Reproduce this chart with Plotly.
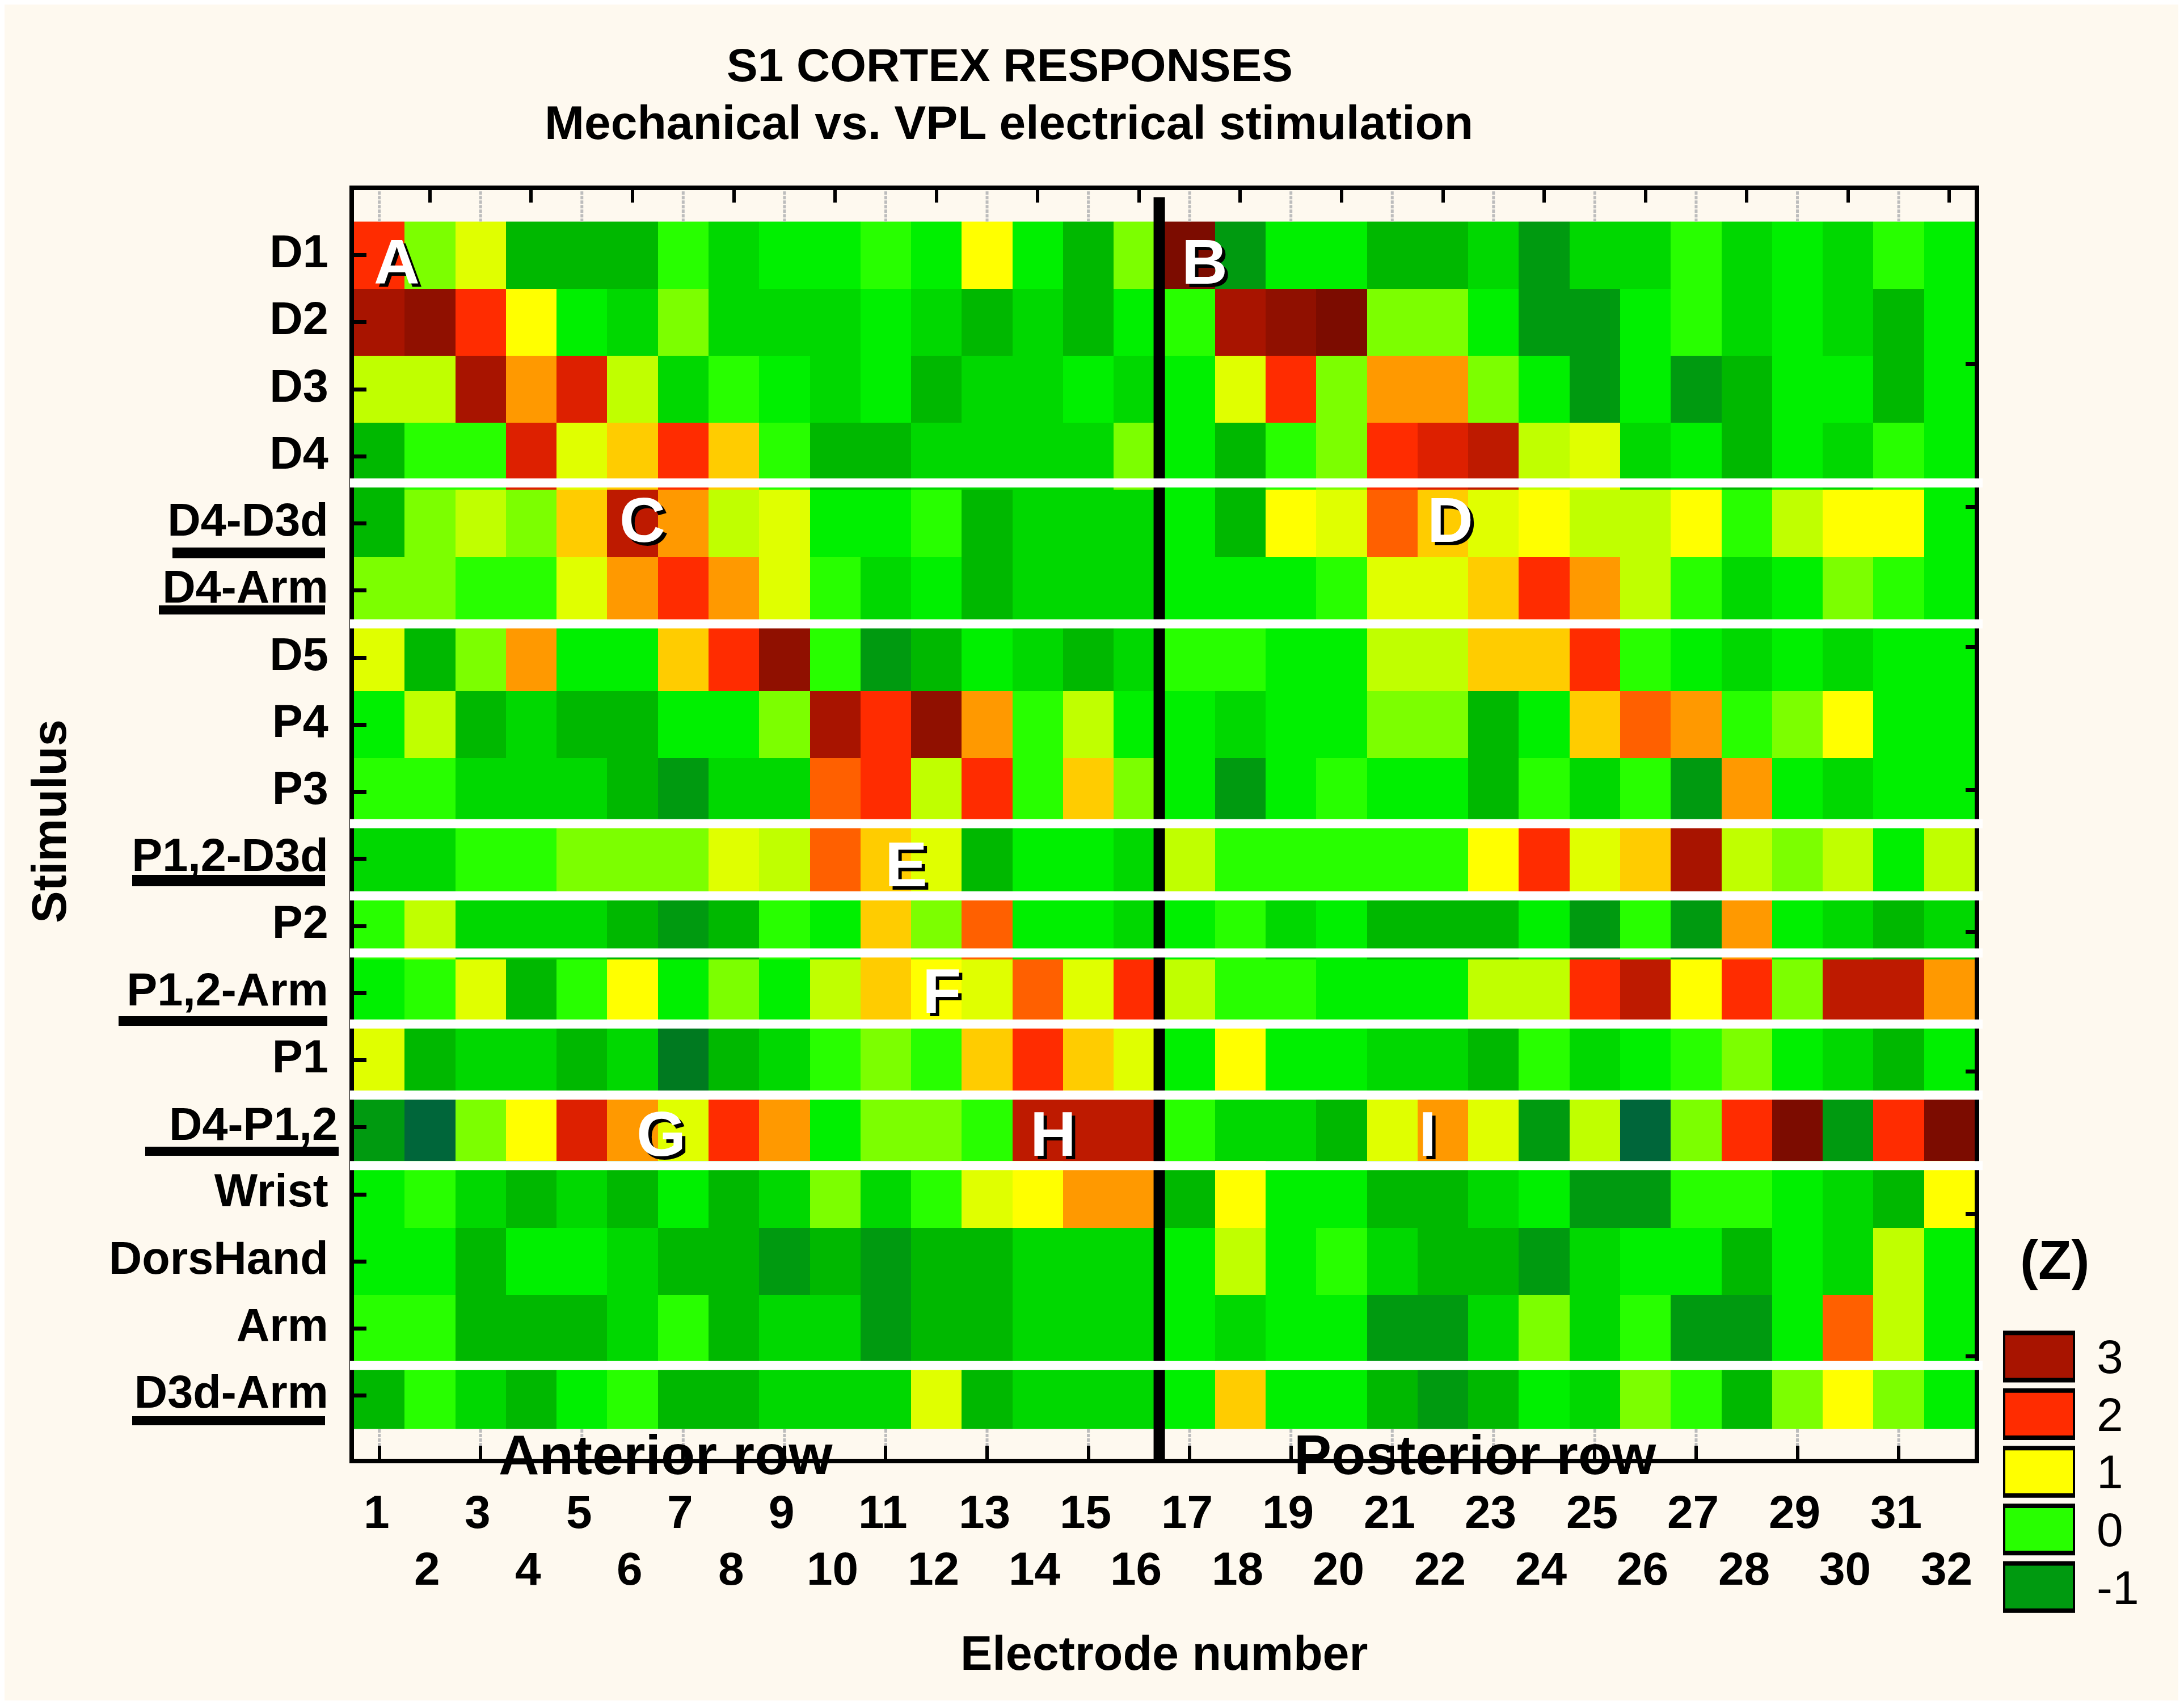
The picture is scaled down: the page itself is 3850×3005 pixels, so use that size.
import plotly.graph_objects as go

W, H = 3850, 3005
FONT = "Liberation Sans"

ELECTRODES = list(range(1, 33))
STIMULI = [
    "D1", "D2", "D3", "D4", "D4-D3d", "D4-Arm", "D5", "P4", "P3",
    "P1,2-D3d", "P2", "P1,2-Arm", "P1", "D4-P1,2", "Wrist", "DorsHand", "Arm", "D3d-Arm",
]

# z scores per stimulus, electrodes 1..32
D1 = [2, .25, .75, -.75, -.75, -.75, 0, -.5, -.25, -.25, 0, -.25, 1, -.25, -.75, .25,
      4, -1, -.25, -.25, -.75, -.75, -.5, -1, -.5, -.5, 0, -.5, -.25, -.5, 0, -.25]
D2 = [3, 3.5, 2, 1, -.25, -.5, .25, -.5, -.5, -.5, -.25, -.5, -.75, -.5, -.75, -.25,
      0, 3, 3.5, 4, .25, .25, -.25, -1, -1, -.25, 0, -.5, -.25, -.5, -.75, -.25]
D3 = [.5, .5, 3, 1.5, 2.25, .5, -.5, 0, -.25, -.5, -.25, -.75, -.5, -.5, -.25, -.5,
      -.25, .75, 2, .25, 1.5, 1.5, .25, -.25, -1, -.25, -1, -.75, -.25, -.25, -.75, -.25]
D4 = [-.75, 0, 0, 2.25, .75, 1.25, 2, 1.25, 0, -.75, -.75, -.5, -.5, -.5, -.5, .25,
      -.25, -.75, 0, .25, 2, 2.25, 2.5, .5, .75, -.5, -.25, -.75, -.25, -.5, 0, -.25]
D4_D3D = [-.75, .25, .5, .25, 1.25, 2.5, 1.5, .5, .75, -.25, -.25, 0, -.75, -.5, -.5, -.5,
          -.25, -.75, 1, .75, 1.75, 1.25, .75, 1, .5, .5, 1, 0, .5, 1, 1, -.25]
D4_ARM = [.25, .25, 0, 0, .75, 1.5, 2, 1.5, .75, 0, -.5, -.25, -.75, -.5, -.5, -.5,
          -.25, -.25, -.25, 0, .75, .75, 1.25, 2, 1.5, .5, 0, -.5, -.25, .25, 0, -.25]
D5 = [.75, -.75, .25, 1.5, -.25, -.25, 1.25, 2, 3.5, 0, -1, -.75, -.25, -.5, -.75, -.5,
      0, 0, -.25, -.25, .5, .5, 1.25, 1.25, 2, 0, -.25, -.5, -.25, -.5, -.25, -.25]
P4 = [-.25, .5, -.75, -.5, -.75, -.75, -.25, -.25, .25, 3, 2, 3.5, 1.5, 0, .5, -.25,
      -.25, -.5, -.25, -.25, .25, .25, -.75, -.25, 1.25, 1.75, 1.5, 0, .25, 1, -.25, -.25]
P3 = [0, 0, -.5, -.5, -.5, -.75, -1, -.5, -.5, 1.75, 2, .5, 2, 0, 1.25, .25,
      -.25, -1, -.25, 0, -.25, -.25, -.75, 0, -.5, 0, -1, 1.5, -.25, -.5, -.25, -.25]
P12_D3D = [-.5, -.5, 0, 0, .25, .25, .25, .75, .5, 1.75, 1.25, .75, -.75, -.25, -.25, -.5,
           .5, 0, 0, 0, 0, 0, 1, 2, .75, 1.25, 3, .5, .25, .5, -.25, .5]
P2 = [0, .5, -.5, -.5, -.5, -.75, -1, -.75, 0, -.25, 1.25, .25, 1.75, -.25, -.25, -.5,
      -.25, 0, -.5, -.25, -.75, -.75, -.75, -.25, -1, 0, -1, 1.5, -.25, -.5, -.75, -.5]
P12_ARM = [-.25, 0, .75, -.75, 0, 1, -.25, .25, -.25, .5, 1.25, 1, .75, 1.75, .75, 2,
           .5, 0, 0, -.25, -.25, -.25, .5, .5, 2, 2.5, 1, 2, .25, 2.5, 2.5, 1.5]
P1 = [.75, -.75, -.5, -.5, -.75, -.5, -1.25, -.75, -.5, 0, .25, 0, 1.25, 2, 1.25, .75,
      -.25, 1, -.25, -.25, -.5, -.5, -.75, 0, -.5, -.25, 0, .25, -.25, -.5, -.75, -.25]
D4_P12 = [-1, -1.5, .25, 1, 2.25, 1.5, .75, 2, 1.5, -.25, .25, .25, 0, 2.5, 2.5, 2.5,
          0, -.5, -.5, -.75, .75, 1.5, .75, -1, .5, -1.5, .25, 2, 4, -1, 2, 4]
WRIST = [-.25, 0, -.5, -.75, -.5, -.75, -.25, -.75, -.5, .25, -.5, 0, .75, 1, 1.5, 1.5,
         -.75, 1, -.25, -.25, -.75, -.75, -.5, -.25, -1, -1, 0, 0, -.25, -.5, -.75, 1]
DORSHAND = [-.25, -.25, -.75, -.25, -.25, -.5, -.75, -.75, -1, -.75, -1, -.75, -.75, -.5, -.5, -.5,
            -.25, .5, -.25, 0, -.5, -.75, -.75, -1, -.5, -.25, -.25, -.75, -.25, -.5, .5, -.25]
ARM = [0, 0, -.75, -.75, -.75, -.5, 0, -.75, -.5, -.5, -1, -.75, -.75, -.5, -.5, -.5,
       -.25, -.5, -.25, -.25, -1, -1, -.5, .25, -.5, 0, -1, -1, -.25, 1.75, .5, -.25]
D3D_ARM = [-.75, 0, -.5, -.75, -.25, 0, -.75, -.75, -.5, -.5, -.5, .75, -.75, -.5, -.5, -.5,
           -.25, 1.25, -.25, -.25, -.75, -1, -.75, -.25, -.5, .25, 0, -.75, .25, 1, .25, -.25]

Z_ROWS = [D1, D2, D3, D4, D4_D3D, D4_ARM, D5, P4, P3, P12_D3D, P2, P12_ARM, P1, D4_P12,
          WRIST, DORSHAND, ARM, D3D_ARM]

LEVELS = [-1.5, -1.25, -1, -.75, -.5, -.25, 0, .25, .5, .75, 1, 1.25, 1.5, 1.75, 2, 2.25, 2.5, 3, 3.5, 4]
COLORS = ["#00663A", "#007A20", "#009A10", "#00B800", "#00D800", "#00F000", "#28FF00", "#7CFF00",
          "#C0FF00", "#E0FF00", "#FFFF00", "#FFCC00", "#FF9900", "#FF6000", "#FF2C00", "#DD2000",
          "#BE1A00", "#A81400", "#901000", "#7C0C00"]

LEGEND_VALUES = [3, 2, 1, 0, -1]
LEGEND_COLORS = ["#A81400", "#FF2C00", "#FFFF00", "#28FF00", "#009A10"]

# white gaps between stimulus groups, in row units
SEPARATORS = [4.395, 6.495, 9.475, 10.55, 11.40, 12.46, 13.52, 14.57, 17.55]

LETTERS = [("A", 1.35, 1.1), ("B", 17.3, 1.1), ("C", 6.2, 4.95), ("D", 22.15, 4.95), ("E", 11.4, 10.08),
           ("F", 12.1, 11.97), ("G", 6.57, 14.1), ("H", 14.3, 14.1), ("I", 21.7, 14.1)]

# x0, x1, y0, y1 in page pixels
UNDERLINES = [(304, 573, 965, 984), (280, 573, 1067, 1083), (233, 573, 1542, 1562),
              (209, 577, 1791, 1808), (256, 597, 2021, 2037), (233, 573, 2496, 2512)]


def px(v):
    return v / W


def py(v):
    return 1 - v / H


def stepped_scale(levels, colors):
    lo, hi = levels[0], levels[-1]
    scale = []
    edges = [lo] + [(a + b) / 2 for a, b in zip(levels, levels[1:])] + [hi]
    for i, c in enumerate(colors):
        scale.append([(edges[i] - lo) / (hi - lo), c])
        scale.append([(edges[i + 1] - lo) / (hi - lo), c])
    return scale


fig = go.Figure()

fig.add_trace(go.Heatmap(
    x=ELECTRODES, y=list(range(1, 19)), z=Z_ROWS,
    zmin=LEVELS[0], zmax=LEVELS[-1], colorscale=stepped_scale(LEVELS, COLORS),
    showscale=False, hoverinfo="skip",
))

# grey stubs in the white strips at odd electrodes
stub_x, stub_y = [], []
for e in ELECTRODES[::2]:
    stub_x += [e, e, None, e, e, None]
    stub_y += [0.05, 0.5, None, 18.5, 18.78, None]
fig.add_trace(go.Scatter(x=stub_x, y=stub_y, mode="lines", line=dict(color="#BDBDBD", width=5, dash="6px,2px"),
                         showlegend=False, hoverinfo="skip"))

# divider between anterior and posterior rows
fig.add_trace(go.Scatter(x=[16.4, 16.4], y=[0.135, 19.05], mode="lines", line=dict(color="black", width=20),
                         cliponaxis=False, showlegend=False, hoverinfo="skip"))

# keeps the top and right tick axes alive
fig.add_trace(go.Scatter(x=[2], y=[1], xaxis="x2", yaxis="y2", mode="markers", marker=dict(opacity=0),
                         showlegend=False, hoverinfo="skip"))

fig.add_trace(go.Bar(
    x=[1] * 5, y=LEGEND_VALUES, orientation="h", width=0.82, base=0,
    marker=dict(color=LEGEND_COLORS, line=dict(color="black", width=8)),
    xaxis="x3", yaxis="y3", cliponaxis=False, showlegend=False, hoverinfo="skip",
))

annotations = []


def text(s, x, y, size, bold=True, xref="paper", yref="paper", xanchor="center", **kw):
    annotations.append(dict(text=f"<b>{s}</b>" if bold else s, x=x, y=y, xref=xref, yref=yref, showarrow=False,
                            xanchor=xanchor, yanchor="middle",
                            font=dict(family=FONT, size=size, color=kw.pop("color", "black")), **kw))


text("S1 CORTEX RESPONSES", px(1780), py(115), 82)
text("Mechanical vs. VPL electrical stimulation", px(1778), py(216), 84)
text("Electrode number", px(2052), py(2914), 84.5)
text("Stimulus", px(86), py(1448), 85, textangle=-90)
text("(Z)", px(3622), py(2220), 96)
text("Anterior row", px(1174), py(2563), 99)
text("Posterior row", px(2600), py(2563), 99)

for e in ELECTRODES:
    text(str(e), e, py(2664 if e % 2 else 2764), 82, xref="x", xshift=-5)

for name, x, y in LETTERS:
    text(name, x, y, 112, xref="x", yref="y", xshift=6, yshift=-6)
    text(name, x, y, 112, xref="x", yref="y", color="white")

text("D4-P1,2", px(597), 14, 81, yref="y", xanchor="right", yshift=6)

shapes = [
    dict(type="rect", xref="paper", yref="paper", x0=px(8), x1=px(3840), y0=py(2997), y1=py(8),
         fillcolor="#FEF9EF", line_width=0, layer="below"),
]
for s in SEPARATORS:
    shapes.append(dict(type="line", xref="paper", yref="y", x0=px(617), x1=px(3495), y0=s, y1=s,
                       line=dict(color="white", width=16), layer="above"))
for x0, x1, y0, y1 in UNDERLINES:
    shapes.append(dict(type="rect", xref="paper", yref="paper", x0=px(x0), x1=px(x1), y0=py(y1), y1=py(y0),
                       fillcolor="black", line_width=0))

axis_line = dict(showline=True, linecolor="black", linewidth=8, showgrid=False, zeroline=False)

fig.update_layout(
    width=W, height=H, autosize=False,
    margin=dict(l=0, r=0, t=0, b=0, pad=0),
    paper_bgcolor="white", plot_bgcolor="white",
    showlegend=False, annotations=annotations, shapes=shapes,
    font=dict(family=FONT, color="black"),
    xaxis=dict(domain=[px(624), px(3481)], range=[0.5, 32.5], anchor="y", tickvals=ELECTRODES[::2],
               ticks="inside", ticklen=23, tickwidth=6, tickcolor="black", showticklabels=False, **axis_line),
    yaxis=dict(domain=[py(2571), py(335)], range=[18.94, 0.03], anchor="x", tickvals=list(range(1, 19)),
               ticktext=[("" if s == "D4-P1,2" else f"<b>{s}</b>") for s in STIMULI],
               ticks="inside", ticklen=22, tickwidth=7, tickcolor="black",
               ticklabelstandoff=21, ticklabelshift=7,
               tickfont=dict(family=FONT, size=81, color="black"), **axis_line),
    xaxis2=dict(overlaying="x", side="top", anchor="y", range=[0.5, 32.5], tickvals=ELECTRODES[1::2],
                ticks="inside", ticklen=22, tickwidth=6, tickcolor="black", showticklabels=False, **axis_line),
    yaxis2=dict(overlaying="y", side="right", anchor="x", range=[18.94, 0.03],
                tickvals=[2.62, 4.75, 6.84, 8.97, 11.09, 13.17, 15.29, 17.41],
                ticks="inside", ticklen=16, tickwidth=7, tickcolor="black", showticklabels=False, **axis_line),
    xaxis3=dict(domain=[px(3531), px(3658)], range=[0, 1], anchor="y3", visible=False),
    yaxis3=dict(domain=[py(2848), py(2340)], range=[-1.5, 3.5], anchor="x3", side="right",
                tickvals=LEGEND_VALUES, ticktext=[str(v) for v in LEGEND_VALUES], showgrid=False, zeroline=False,
                showline=False, ticks="", ticklabelstandoff=37, tickfont=dict(family=FONT, size=84, color="black")),
)

fig.write_html("out.html", config={"displayModeBar": False}, post_script="document.body.style.margin='0';")
